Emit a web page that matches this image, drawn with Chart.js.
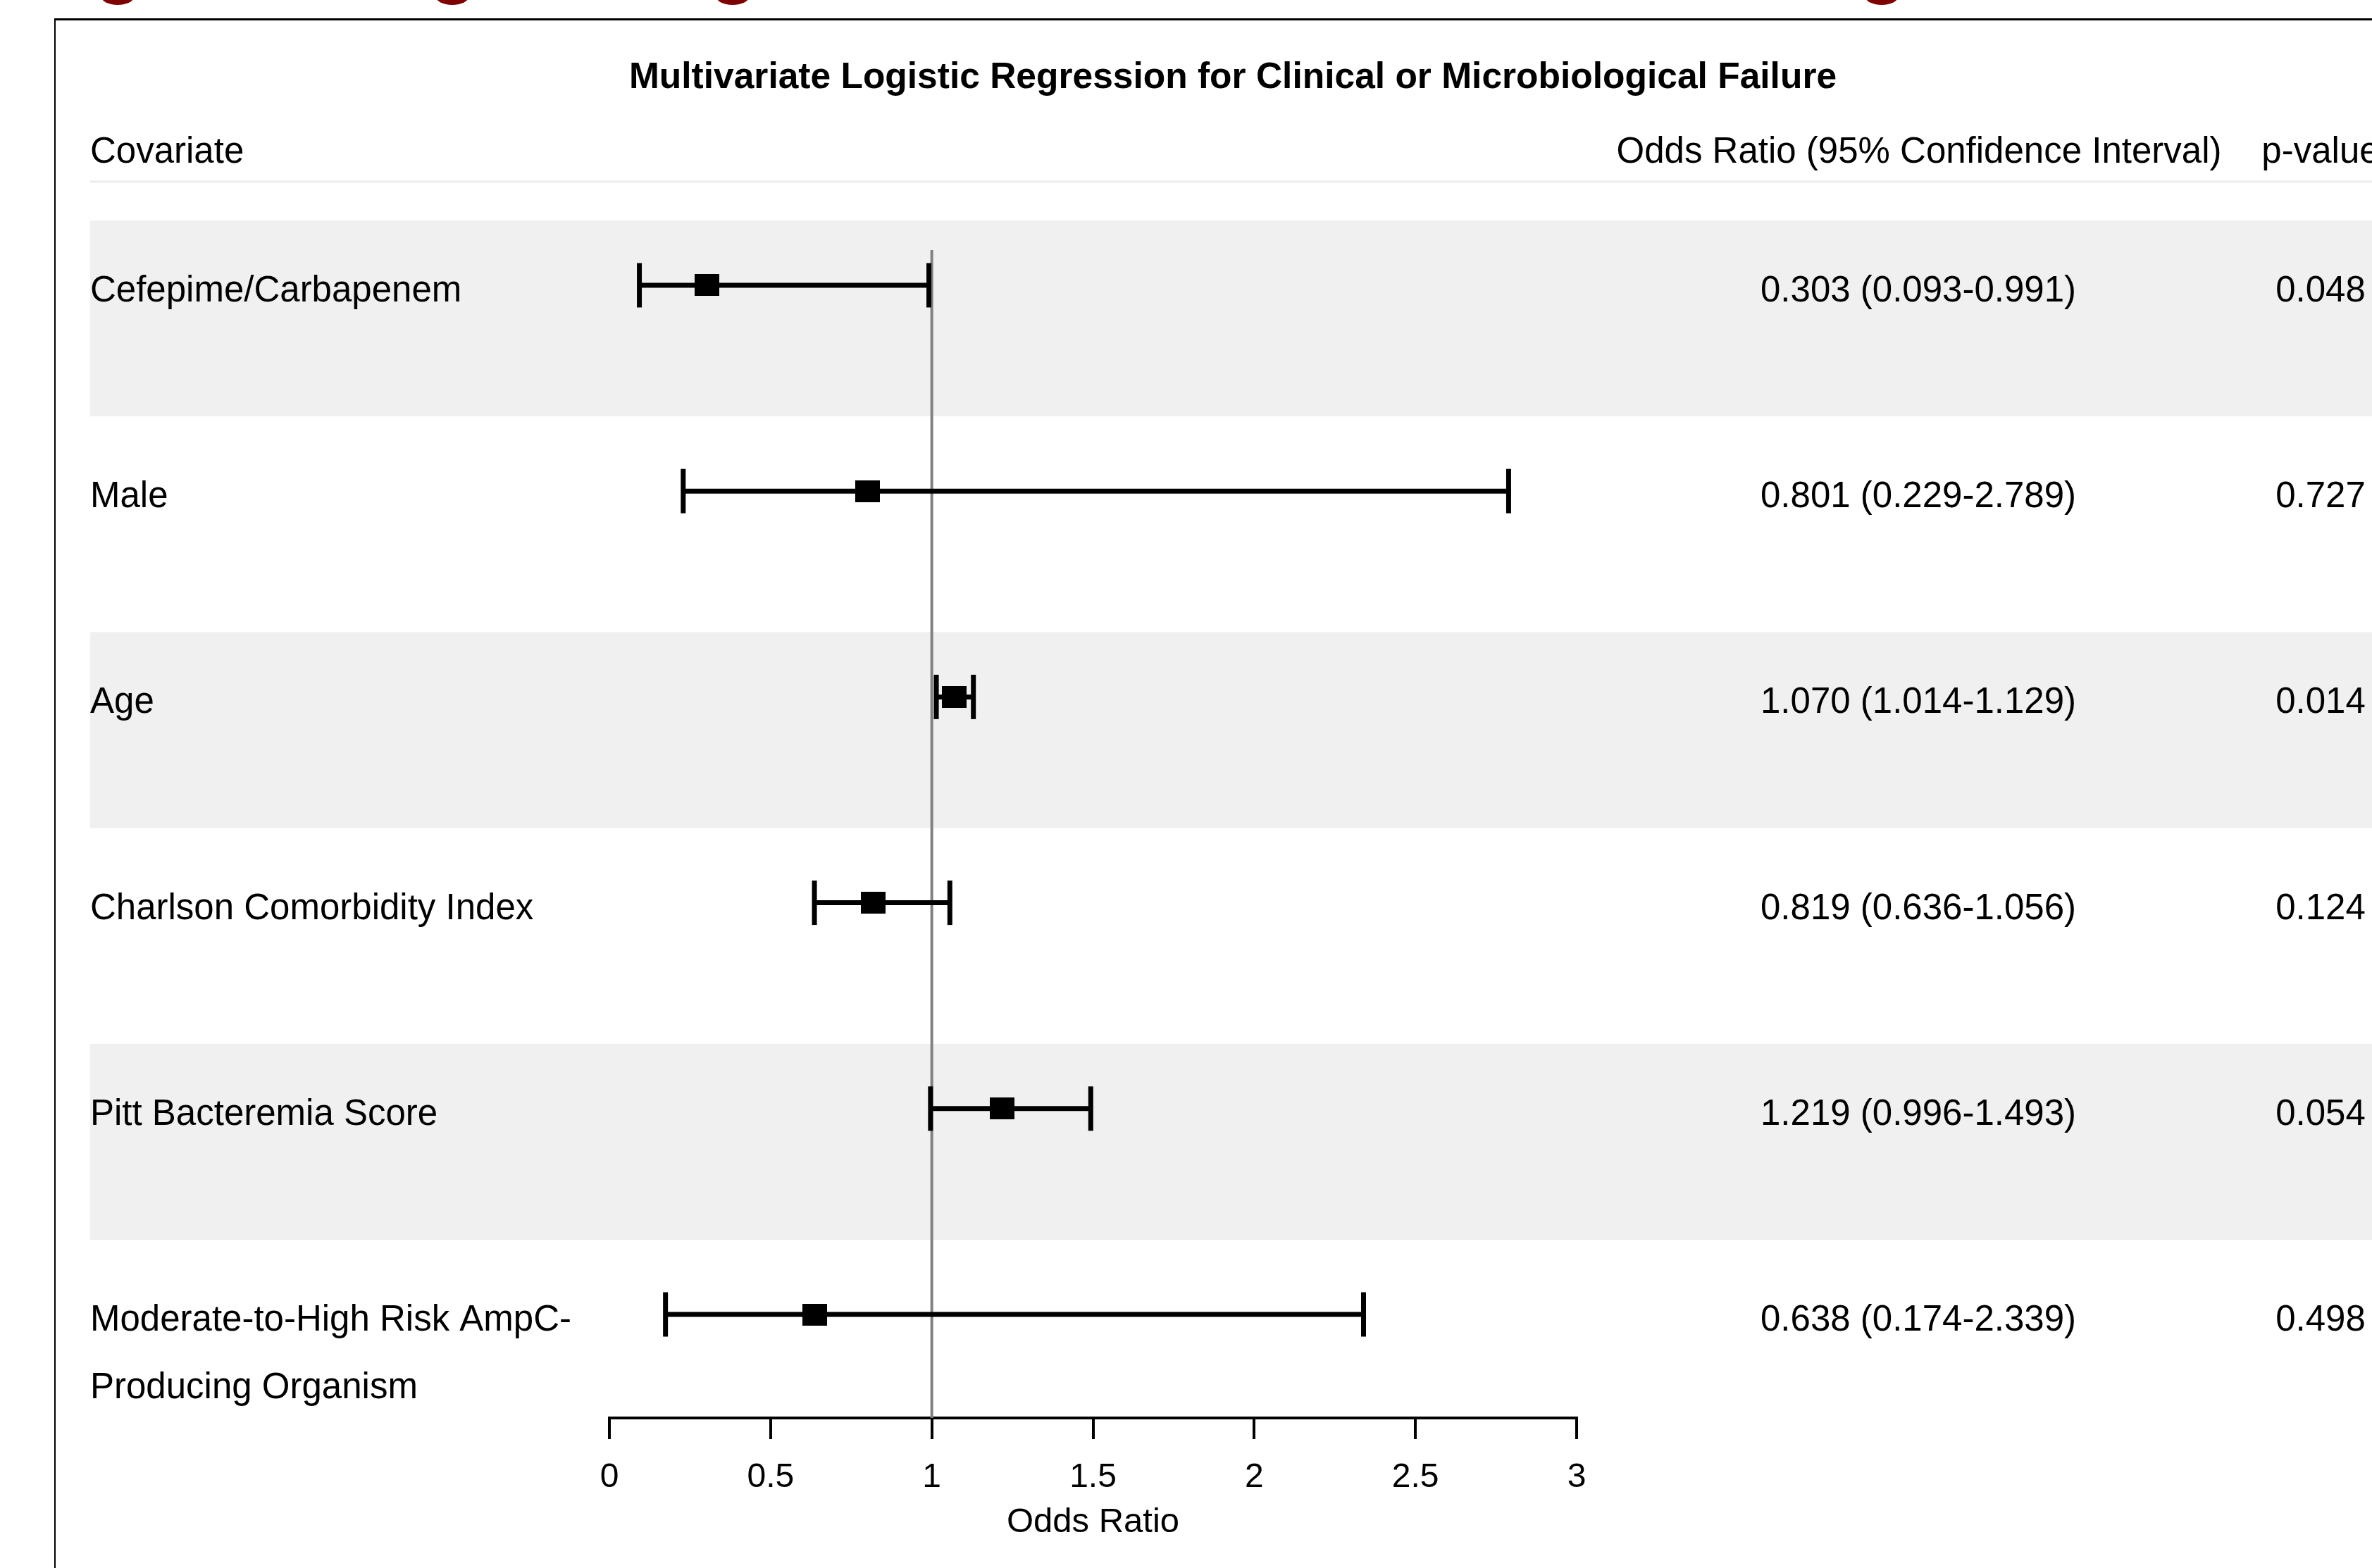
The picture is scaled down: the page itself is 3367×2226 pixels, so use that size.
<!DOCTYPE html>
<html>
<head>
<meta charset="utf-8">
<script src="https://cdn.jsdelivr.net/npm/chart.js@4.4.1/dist/chart.umd.min.js"></script>
<style>
  html, body { margin: 0; padding: 0; background: #fff; overflow: hidden; }
  canvas { display: block; }
</style>
</head>
<body>
<canvas id="forest" width="3367" height="2226"></canvas>
<script>
// Rows, top to bottom
const covariates = [
    ['Cefepime/Carbapenem'],
    ['Male'],
    ['Age'],
    ['Charlson Comorbidity Index'],
    ['Pitt Bacteremia Score'],
    ['Moderate-to-High Risk AmpC-', 'Producing Organism']
];
const oddsRatios = [0.303, 0.801, 1.070, 0.819, 1.219, 0.638];
const ciLower = [0.093, 0.229, 1.014, 0.636, 0.996, 0.174];
const ciUpper = [0.991, 2.789, 1.129, 1.056, 1.493, 2.339];
const pValues = ['0.048', '0.727', '0.014', '0.124', '0.054', '0.498'];

// Axis
const xTicks = [0, 0.5, 1, 1.5, 2, 2.5, 3];
const xTickLabels = ['0', '0.5', '1', '1.5', '2', '2.5', '3'];
const refValue = 1; // no-effect line

const titleText = 'Multivariate Logistic Regression for Clinical or Microbiological Failure';
const headers = ['Covariate', 'Odds Ratio (95% Confidence Interval)', 'p-value'];
const xAxisTitle = 'Odds Ratio';

const FONT = '"Liberation Sans", Arial, Helvetica, sans-serif';
const yMin = -0.171;
const yMax = 5.503;

// square marker, a bit wider than tall like the original
const box = document.createElement('canvas');
box.width = 35;
box.height = 31;
const bctx = box.getContext('2d');
bctx.fillStyle = '#000';
bctx.fillRect(0, 0, 35, 31);

// Background, stripes, table text
const tablePlugin = {
    id: 'tablePlugin',
    beforeDraw(chart) {
        const ctx = chart.ctx;
        const y = chart.scales.y;
        const W = chart.width;
        ctx.save();
        ctx.fillStyle = '#fff';
        ctx.fillRect(0, 0, W, chart.height);

        // bottoms of the red caption letters, cut off by the crop
        ctx.fillStyle = '#7f0000';
        [167, 642, 1040, 2671].forEach(cx => {
            ctx.beginPath();
            ctx.ellipse(cx, -6, 24, 13, 0, 0, Math.PI * 2);
            ctx.fill();
        });

        // frame
        ctx.fillStyle = '#000';
        ctx.fillRect(77, 26, W - 77, 3);
        ctx.fillRect(77, 26, 2, chart.height - 26);

        // header rule
        ctx.fillStyle = '#f0f0f0';
        ctx.fillRect(128, 256, W - 128, 4);

        // zebra stripes
        covariates.forEach((c, i) => {
            if (i % 2) return;
            const top = y.getPixelForValue(i - 0.315);
            const bot = y.getPixelForValue(i + 0.637);
            ctx.fillRect(128, top, W - 128, bot - top);
        });
        ctx.restore();
    },
    afterDraw(chart) {
        const ctx = chart.ctx;
        const y = chart.scales.y;
        ctx.save();
        ctx.fillStyle = '#000';
        ctx.textBaseline = 'alphabetic';

        ctx.font = `bold 51.5px ${FONT}`;
        ctx.textAlign = 'center';
        ctx.fillText(titleText, 1750, 125);

        ctx.font = `51px ${FONT}`;
        ctx.textAlign = 'left';
        ctx.fillText(headers[0], 128, 231);
        ctx.textAlign = 'center';
        ctx.fillText(headers[1], 2724, 231);
        ctx.fillText(headers[2], 3294, 231);

        covariates.forEach((lines, i) => {
            const base = y.getPixelForValue(i) + 23;
            ctx.textAlign = 'left';
            lines.forEach((t, k) => ctx.fillText(t, 128, base + k * 96));
            ctx.textAlign = 'center';
            const ci = `${oddsRatios[i].toFixed(3)} (${ciLower[i].toFixed(3)}-${ciUpper[i].toFixed(3)})`;
            ctx.fillText(ci, 2723, base);
            ctx.fillText(pValues[i], 3294, base);
        });
        ctx.restore();
    }
};

// Confidence interval whiskers, one dataset per row
const ciSets = oddsRatios.map((v, i) => ({
    data: [{ x: ciLower[i], y: i }, { x: ciUpper[i], y: i }],
    showLine: true,
    borderColor: '#000',
    borderWidth: 7,
    pointStyle: 'line',
    pointRotation: 90,
    pointRadius: 31.5,
    pointBorderWidth: 7,
    pointBorderColor: '#000',
    pointBackgroundColor: '#000',
    order: 2
}));

const ctx = document.getElementById('forest').getContext('2d');
new Chart(ctx, {
    type: 'scatter',
    data: {
        datasets: [
            {
                data: oddsRatios.map((v, i) => ({ x: v, y: i })),
                pointStyle: box,
                pointRadius: 18,
                order: 1
            },
            ...ciSets,
            {
                data: [{ x: refValue, y: yMin }, { x: refValue, y: yMax }],
                showLine: true,
                borderColor: '#808080',
                borderWidth: 4,
                pointRadius: 0,
                order: 3
            }
        ]
    },
    options: {
        responsive: false,
        animation: false,
        devicePixelRatio: 1,
        layout: { padding: { left: 865, right: 1129, top: 355, bottom: 0 } },
        plugins: {
            legend: { display: false },
            tooltip: { enabled: false }
        },
        scales: {
            x: {
                type: 'linear',
                min: 0,
                max: 3,
                afterBuildTicks: s => { s.ticks = xTicks.map(v => ({ value: v })); },
                afterFit: s => { s.height = 213; },
                ticks: {
                    callback: (v, i) => xTickLabels[i],
                    color: '#000',
                    font: { family: FONT, size: 48 },
                    padding: 26,
                    maxRotation: 0,
                    autoSkip: false
                },
                grid: {
                    drawOnChartArea: false,
                    color: '#000',
                    lineWidth: 4,
                    tickLength: 30,
                    tickWidth: 4
                },
                border: { display: true, color: '#000', width: 4 },
                title: {
                    display: true,
                    text: xAxisTitle,
                    color: '#000',
                    font: { family: FONT, size: 49 },
                    padding: { top: 0, bottom: 35 }
                }
            },
            y: {
                type: 'linear',
                reverse: true,
                min: yMin,
                max: yMax,
                display: false
            }
        }
    },
    plugins: [tablePlugin]
});
</script>
</body>
</html>
